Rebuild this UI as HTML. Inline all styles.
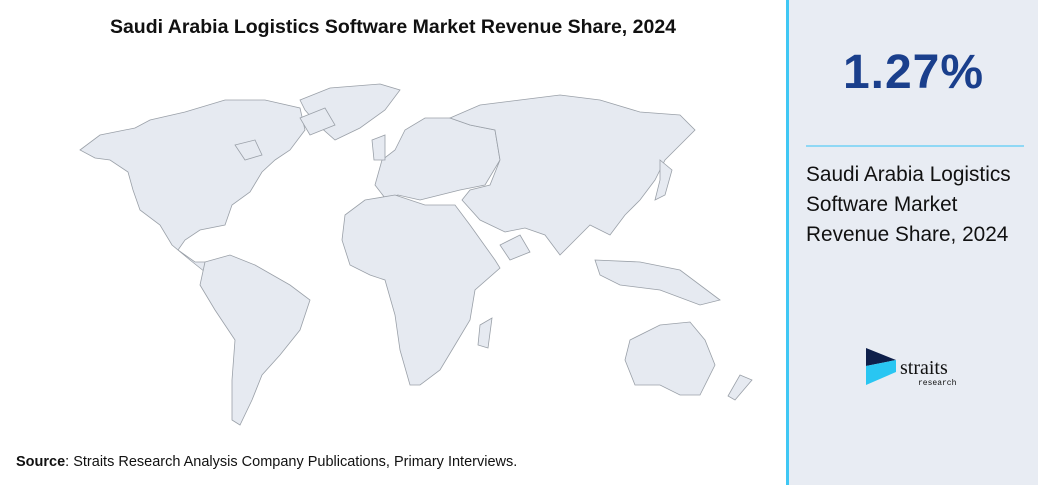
<!DOCTYPE html>
<html><head><meta charset="utf-8"><style>
body{margin:0;width:1038px;height:485px;background:#fff;position:relative;overflow:hidden;font-family:"Liberation Sans",Arial,sans-serif}
.title{position:absolute;left:0;width:786px;top:16px;text-align:center;font-size:19.5px;font-weight:bold;color:#111}
.src{position:absolute;left:16px;top:454px;font-size:14.5px;color:#111}
.panel{position:absolute;left:786px;top:0;width:252px;height:485px;background:#e8ecf3;border-left:3px solid #3fc7f4;box-sizing:border-box}
.big{position:absolute;left:0;width:249px;top:45px;text-align:center;font-size:48px;color:#1a3f8c;font-weight:bold;letter-spacing:1px}
.line{position:absolute;left:17px;top:145px;width:218px;height:2px;background:#8fd8f5}
.txt{position:absolute;left:17px;top:160px;font-size:20.8px;line-height:30px;color:#111}
</style></head><body>
<div class="title">Saudi Arabia Logistics Software Market Revenue Share, 2024</div>
<svg width="786" height="440" style="position:absolute;left:0;top:0" fill="#e6eaf1" stroke="#9aa0a8" stroke-width="0.8">
<path d="M80,150 L100,135 L135,128 L150,120 L185,112 L225,100 L265,100 L300,108 L305,130 L290,150 L275,160 L262,172 L250,192 L232,205 L225,225 L200,230 L185,240 L178,250 L195,262 L210,262 L215,270 L205,272 L190,260 L172,245 L160,225 L140,210 L133,190 L128,172 L110,160 L95,158 Z"/>
<path d="M300,100 L330,88 L380,84 L400,90 L385,110 L360,128 L335,140 L318,125 L305,110 Z"/>
<path d="M235,145 L255,140 L262,155 L245,160 Z"/>
<path d="M205,262 L230,255 L255,265 L290,285 L310,300 L300,330 L280,355 L262,375 L252,400 L240,425 L232,420 L232,380 L235,340 L215,310 L200,285 Z"/>
<path d="M375,185 L382,160 L395,150 L405,130 L425,118 L450,118 L470,125 L495,130 L500,160 L485,185 L460,190 L440,195 L420,200 L398,195 L385,198 Z"/>
<path d="M372,140 L385,135 L385,160 L374,160 Z"/>
<path d="M345,215 L365,200 L395,195 L425,205 L455,205 L470,225 L495,260 L500,268 L475,290 L470,320 L455,345 L440,370 L420,385 L410,385 L400,350 L395,315 L385,280 L370,275 L350,265 L342,240 Z"/>
<path d="M480,325 L492,318 L488,348 L478,345 Z"/>
<path d="M450,118 L480,105 L520,100 L560,95 L600,100 L640,112 L680,115 L695,130 L680,145 L665,160 L655,180 L640,200 L625,215 L610,235 L590,225 L575,240 L560,255 L545,235 L525,228 L505,232 L480,220 L462,200 L470,190 L490,185 L500,160 L495,130 L470,125 Z"/>
<path d="M520,235 L530,252 L510,260 L500,245 Z"/>
<path d="M595,260 L640,262 L680,270 L720,300 L700,305 L660,290 L620,285 L600,275 Z"/>
<path d="M660,160 L672,170 L665,195 L655,200 L660,180 Z"/>
<path d="M630,340 L660,325 L690,322 L705,340 L715,365 L700,395 L680,395 L660,385 L635,385 L625,360 Z"/>
<path d="M740,375 L752,380 L735,400 L728,396 Z"/>
<path d="M300,118 L325,108 L335,125 L310,135 Z"/>
</svg>
<div class="src"><b>Source</b>: Straits Research Analysis Company Publications, Primary Interviews.</div>
<div class="panel">
<div class="big">1.27%</div>
<div class="line"></div>
<div class="txt">Saudi Arabia Logistics<br>Software Market<br>Revenue Share, 2024</div>
<svg width="110" height="40" style="position:absolute;left:77px;top:348px">
<polygon points="0,0 30,12 0,18" fill="#0e1f4a"/>
<polygon points="0,18 30,12 30,24 0,37" fill="#29c6f2"/>
<text x="34" y="26" font-family="Liberation Serif,serif" font-size="20" fill="#111">straits</text>
<text x="52" y="37" font-family="Liberation Mono,monospace" font-size="8" fill="#111">research</text>
</svg>
</div>
</body></html>
